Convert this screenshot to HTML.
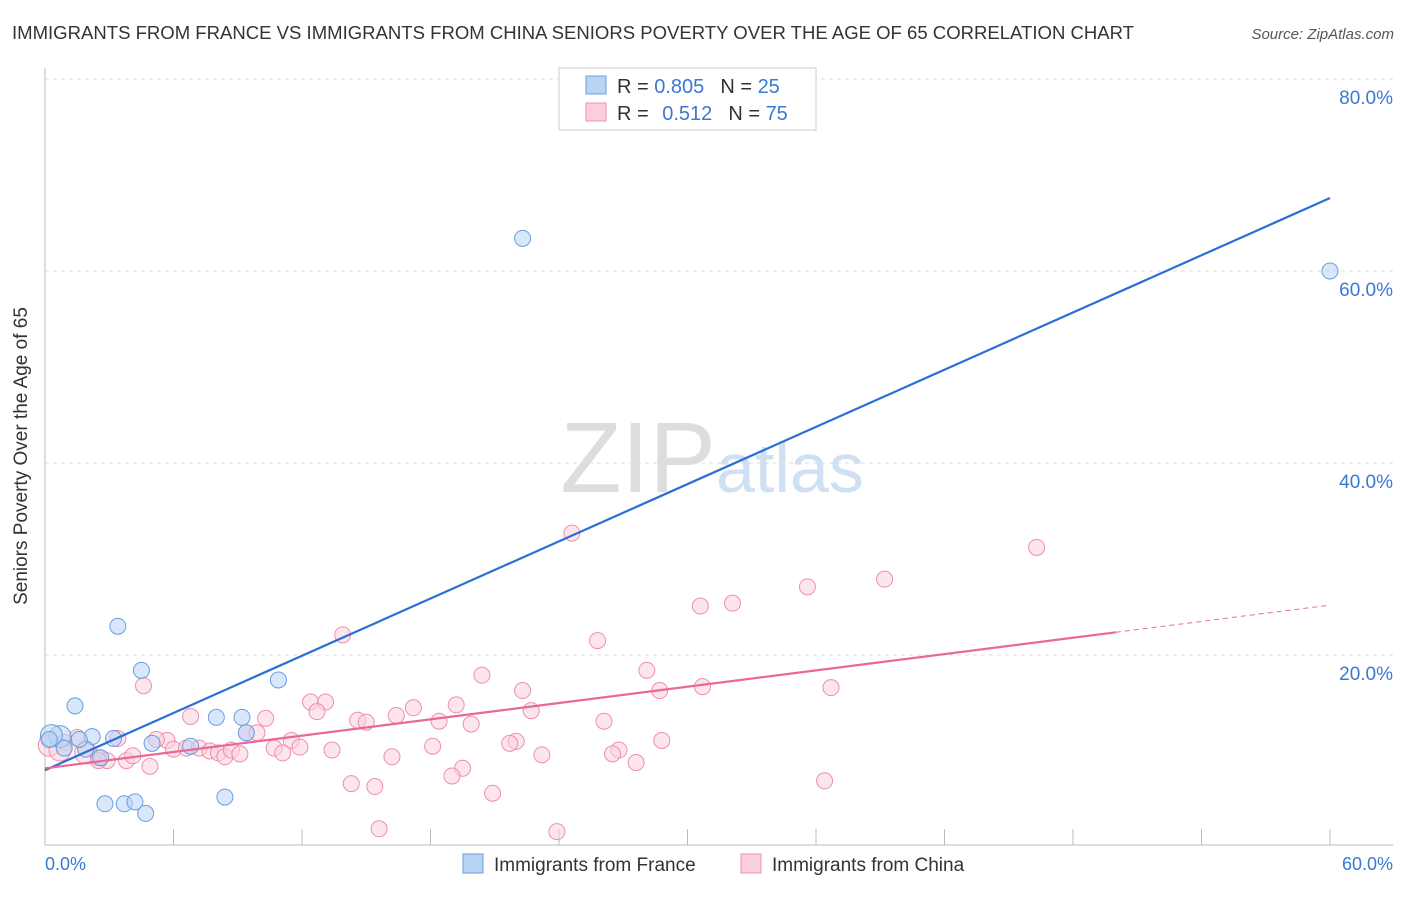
<!DOCTYPE html>
<html><head><meta charset="utf-8"><style>
body{margin:0;background:#fff;font-family:"Liberation Sans",sans-serif;}
svg text{font-family:"Liberation Sans",sans-serif;}
</style></head><body>
<svg width="1406" height="892" viewBox="0 0 1406 892">
<text x="12" y="39" font-size="18" fill="#333" textLength="1122" lengthAdjust="spacingAndGlyphs">IMMIGRANTS FROM FRANCE VS IMMIGRANTS FROM CHINA SENIORS POVERTY OVER THE AGE OF 65 CORRELATION CHART</text>
<text x="1394" y="39" font-size="15" fill="#555" font-style="italic" text-anchor="end">Source: ZipAtlas.com</text>
<g id="grid"></g>
<text x="716" y="492" font-size="100" fill="#ddd" text-anchor="end" font-family="Liberation Serif">ZIP</text>
<text x="716" y="492" font-size="70" fill="#cfe0f3">atlas</text>
<g id="marks"></g>
<text x="27" y="456" font-size="19" fill="#333" text-anchor="middle" transform="rotate(-90 27 456)">Seniors Poverty Over the Age of 65</text>
<text x="45" y="870" font-size="18" fill="#3a78d4">0.0%</text>
<text x="1393" y="870" font-size="18" fill="#3a78d4" text-anchor="end">60.0%</text>
<g>
<rect x="559" y="68" width="257" height="62" fill="#fff" stroke="#ccc"/>
<rect x="586" y="76" width="20" height="18" fill="#b8d4f5" stroke="#6a9de0"/>
<rect x="586" y="103" width="20" height="18" fill="#fbd0dc" stroke="#ee8fab"/>
<text x="617" y="93" font-size="20" fill="#333">R = <tspan fill="#3a78d4">0.805</tspan><tspan dx="16">N = </tspan><tspan fill="#3a78d4">25</tspan></text>
<text x="617" y="120" font-size="20" fill="#333">R = <tspan fill="#3a78d4" dx="8">0.512</tspan><tspan dx="16">N = </tspan><tspan fill="#3a78d4">75</tspan></text>
</g>
<g>
<rect x="463" y="854" width="20" height="19" fill="#b8d4f5" stroke="#6a9de0"/>
<text x="494" y="871" font-size="19" fill="#333">Immigrants from France</text>
<rect x="741" y="854" width="20" height="19" fill="#fbd0dc" stroke="#ee8fab"/>
<text x="772" y="871" font-size="19" fill="#333">Immigrants from China</text>
</g>
</svg>
<script>
const yTicks=[20,40,60,80];
const xTicks=[0,6,12,18,24,30,36,42,48,54,60];
const franceX=[22.3,60,3.4,4.5,10.9,1.4,8.0,9.2,2.2,5.0,3.2,6.8,9.4,0.7,0.3,1.9,2.6,0.9,2.8,3.7,4.2,4.7,8.4,1.6,0.2];
const franceY=[63.4,60.0,23.0,18.4,17.4,14.7,13.5,13.5,11.5,10.8,11.3,10.5,11.9,11.5,11.6,10.2,9.3,10.3,4.5,4.5,4.7,3.5,5.2,11.2,11.2];
const chinaX=[24.6,46.3,39.2,35.6,32.1,30.6,25.8,13.9,28.1,4.6,20.4,22.3,28.7,30.7,36.7,12.4,13.1,19.2,17.2,22.7,6.8,12.7,10.3,16.4,26.1,14.6,15.0,18.4,19.9,28.8,22.0,21.7,11.5,18.1,26.8,9.4,9.9,5.7,5.2,3.4,1.5,0.9,0.2,0.7,1.9,2.5,2.9,3.8,4.1,6.0,6.6,7.2,7.7,8.1,8.4,8.7,9.1,10.7,11.1,11.9,13.4,16.2,23.2,26.5,27.6,4.9,19.5,19.0,14.3,15.4,20.9,36.4,15.6,23.9,2.5];
const chinaY=[32.7,31.2,27.9,27.1,25.4,25.1,21.5,22.1,18.4,16.8,17.9,16.3,16.3,16.7,16.6,15.1,15.1,14.8,14.5,14.2,13.6,14.1,13.4,13.7,13.1,13.2,13.0,13.1,12.8,11.1,11.0,10.8,11.1,10.5,10.1,11.9,11.9,11.1,11.2,11.3,11.4,10.9,10.6,10.1,9.8,9.3,9.0,9.0,9.5,10.2,10.3,10.3,10.0,9.8,9.4,10.1,9.7,10.3,9.8,10.4,10.1,9.4,9.6,9.7,8.8,8.4,8.2,7.4,6.6,6.3,5.6,6.9,1.9,1.6,9.0];
const franceFit=[8.0,67.6];
const chinaFit=[8.2,25.2];
const chinaSolidEnd=50;
const X=v=>45+v*(1285/60), Y=v=>847-v*9.6;
const NS='http://www.w3.org/2000/svg';
const grid=document.getElementById('grid'), marks=document.getElementById('marks');
function mk(p,tag,a){const e=document.createElementNS(NS,tag);for(const k in a)e.setAttribute(k,a[k]);p.appendChild(e);return e;}
yTicks.forEach(t=>{
 const l=mk(grid,'line',{x1:45,x2:1393,y1:Y(t),y2:Y(t),stroke:'#ddd','stroke-dasharray':'4 4'});
 
 
 const tx=mk(grid,'text',{x:1393,y:Y(t)+25,'font-size':19,fill:'#3a78d4','text-anchor':'end'});
 tx.textContent=t.toFixed(1)+'%';
 
 
});
mk(grid,'line',{x1:45,x2:45,y1:68,y2:845,stroke:'#bbb'});
mk(grid,'line',{x1:45,x2:1393,y1:845,y2:845,stroke:'#bbb'});
xTicks.forEach(t=>{if(t===0)return;const l=mk(grid,'line',{x1:X(t),x2:X(t),y1:829,y2:845,stroke:'#bbb'});
 
 });
function pts(xs,ys,fill,stroke,name){xs.forEach((x,i)=>{const r=(name==='china-point'&&i>=42&&i<=44)||(name==='france-point'&&i>=13&&i<=14)?11:8;
 const c=mk(marks,'circle',{cx:X(x),cy:Y(ys[i]),r:r,fill:fill,'fill-opacity':0.55,stroke:stroke,'stroke-width':1});
 
 });}
pts(chinaX,chinaY,'#fbd0dc','#ee8fab','china-point');
pts(franceX,franceY,'#b8d4f5','#6a9de0','france-point');
const cy=x=>chinaFit[0]+(chinaFit[1]-chinaFit[0])*x/60;
let l=mk(marks,'line',{x1:X(0),y1:Y(franceFit[0]),x2:X(60),y2:Y(franceFit[1]),stroke:'#2a6fd6','stroke-width':2.2});


l=mk(marks,'line',{x1:X(0),y1:Y(cy(0)),x2:X(chinaSolidEnd),y2:Y(cy(chinaSolidEnd)),stroke:'#e8689a','stroke-width':2.2});


l=mk(marks,'line',{x1:X(chinaSolidEnd),y1:Y(cy(chinaSolidEnd)),x2:X(60),y2:Y(cy(60)),stroke:'#e8689a','stroke-width':1,'stroke-dasharray':'5 4'});


</script>
</body></html>
